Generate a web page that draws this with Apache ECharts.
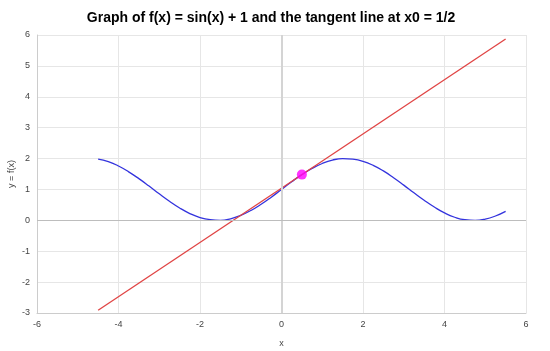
<!DOCTYPE html>
<html>
<head>
<meta charset="utf-8">
<script src="https://cdn.jsdelivr.net/npm/echarts@6/dist/echarts.min.js"></script>
<style>
  html, body { margin: 0; padding: 0; background: #fff; }
  #chart { width: 550px; height: 351px; }
</style>
</head>
<body>
<div id="chart"></div>
<script>
// values
const curveX = [-4.5, -4.25, -4, -3.75, -3.5, -3.25, -3, -2.75, -2.5, -2.25, -2, -1.75, -1.5, -1.25, -1, -0.75, -0.5, -0.25,
  0, 0.25, 0.5, 0.75, 1, 1.25, 1.5, 1.75, 2, 2.25, 2.5, 2.75, 3, 3.25, 3.5, 3.75, 4, 4.25, 4.5, 4.75, 5, 5.25, 5.5];
const curveY = [1.98, 1.90, 1.76, 1.57, 1.35, 1.11, 0.86, 0.62, 0.40, 0.22, 0.09, 0.02, 0.00, 0.05, 0.16, 0.32, 0.52, 0.75,
  1.00, 1.25, 1.48, 1.68, 1.84, 1.95, 2.00, 1.98, 1.91, 1.78, 1.60, 1.38, 1.14, 0.89, 0.65, 0.43, 0.24, 0.10, 0.02, 0.00, 0.04, 0.14, 0.29];
const tangentX = [-4.5, 5.5];
const tangentY = [-2.91, 5.87];
const pointX = [0.5];
const pointY = [1.48];

const zip = (xs, ys) => xs.map((x, i) => [x, ys[i]]);

const chart = echarts.init(document.getElementById('chart'), null, { renderer: 'canvas' });

const labelStyle = { color: '#444', fontSize: 9, fontFamily: 'Arial, Liberation Sans, sans-serif' };

chart.setOption({
  animation: false,
  title: {
    text: 'Graph of f(x) = sin(x) + 1 and the tangent line at x0 = 1/2',
    left: 266,
    textAlign: 'center',
    top: 6,
    textStyle: { fontSize: 14, fontWeight: 'bold', color: '#000', fontFamily: 'Arial, Liberation Sans, sans-serif' }
  },
  grid: { left: 37, right: 24, top: 35, bottom: 38, outerBoundsMode: 'none', containLabel: false },
  xAxis: {
    type: 'value',
    min: -6, max: 6, interval: 2,
    name: 'x',
    nameLocation: 'middle',
    nameGap: 26,
    nameMoveOverlap: false,
    nameTextStyle: labelStyle,
    axisLine: { onZero: false, lineStyle: { color: '#ccc' } },
    axisTick: { show: false },
    axisLabel: Object.assign({ margin: 7 }, labelStyle),
    splitLine: { lineStyle: { color: '#e6e6e6' } }
  },
  yAxis: {
    type: 'value',
    min: -3, max: 6, interval: 1,
    name: 'y = f(x)',
    nameLocation: 'middle',
    nameGap: 21,
    nameMoveOverlap: false,
    nameTextStyle: labelStyle,
    axisLine: { show: true, onZero: false, lineStyle: { color: '#ccc' } },
    axisTick: { show: false },
    axisLabel: Object.assign({ margin: 7 }, labelStyle),
    splitLine: { lineStyle: { color: '#e6e6e6' } }
  },
  series: [
    {
      type: 'line',
      data: [],
      silent: true,
      markLine: {
        silent: true,
        symbol: 'none',
        label: { show: false },
        data: [
          { xAxis: 0, lineStyle: { color: '#d4d4d4', type: 'solid', width: 2 } },
          { yAxis: 0, lineStyle: { color: '#bdbdbd', type: 'solid', width: 1 } }
        ]
      }
    },
    {
      name: 'f(x)',
      type: 'line',
      data: zip(curveX, curveY),
      smooth: true,
      showSymbol: false,
      lineStyle: { color: '#3333dd', width: 1.3 }
    },
    {
      name: 'tangent',
      type: 'line',
      data: zip(tangentX, tangentY),
      showSymbol: false,
      lineStyle: { color: '#e04444', width: 1.3 }
    },
    {
      name: 'x0',
      type: 'scatter',
      data: zip(pointX, pointY),
      symbolSize: 10,
      itemStyle: { color: '#ff00ff' },
      z: 5
    }
  ]
});
</script>
</body>
</html>
